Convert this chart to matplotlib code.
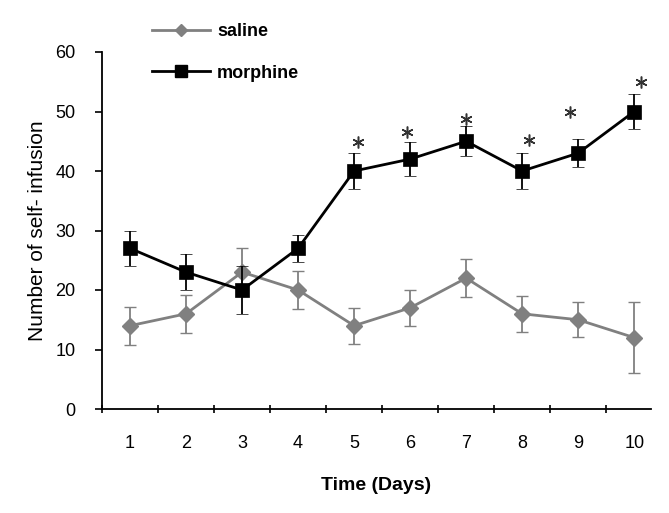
import matplotlib
matplotlib.use("Agg")
import matplotlib.pyplot as plt
from matplotlib.lines import Line2D
import numpy as np

plt.rcParams['font.family'] = ['Liberation Sans', 'DejaVu Sans']

days = [1, 2, 3, 4, 5, 6, 7, 8, 9, 10]
saline = [14, 16, 23, 20, 14, 17, 22, 16, 15, 12]
saline_err = [3.2, 3.2, 4, 3.2, 3, 3, 3.2, 3, 2.9, 6]
morphine = [27, 23, 20, 27, 40, 42, 45, 40, 43, 50]
morphine_err = [3, 3, 4, 2.3, 3, 2.8, 2.5, 3, 2.4, 3]
star_x = [5.07, 5.95, 7.0, 8.12, 8.85, 10.12]
star_y = [44.9, 46.5, 48.7, 45.2, 49.9, 55.0]
y_ticks = [0, 10, 20, 30, 40, 50, 60]

fig = plt.figure(figsize=(6.69, 5.13), dpi=100)
ax = fig.add_axes([102/669, (513-409)/513, (651-102)/669, (409-52)/513])

gray = '#808080'
ax.errorbar(days, saline, yerr=saline_err, color=gray, ecolor=gray, lw=2.0,
            elinewidth=1.3, capsize=4.5, capthick=1.3, marker='D', ms=8,
            mfc=gray, mec=gray, mew=1, zorder=2)
ax.errorbar(days, morphine, yerr=morphine_err, color='black', ecolor='black', lw=2.0,
            elinewidth=1.3, capsize=4.5, capthick=1.3, marker='s', ms=9.5,
            mfc='black', mec='black', mew=0.5, zorder=3)

ax.plot(star_x, star_y, linestyle='none', marker=(6, 2, 0), ms=8.5, mew=1.1,
        color='#333333', zorder=4)

ax.set_xlim(0.5, 10.3)
ax.set_ylim(0, 60)
ax.set_yticks(y_ticks)
ax.set_xticks(days)
ax.set_xticks(np.arange(0.5, 10.0, 1.0), minor=True)
ax.tick_params(axis='x', which='major', length=0, pad=19, labelsize=13)
ax.tick_params(axis='x', which='minor', length=6, width=1.2, direction='inout')
ax.tick_params(axis='y', which='major', length=5, width=1.2, direction='out', labelsize=13, pad=14)
for s in ['top', 'right']:
    ax.spines[s].set_visible(False)
for s in ['left', 'bottom']:
    ax.spines[s].set_linewidth(1.3)

ax.set_xlabel('Time (Days)', fontsize=14, fontweight='bold', labelpad=18)
ax.set_ylabel('Number of self- infusion', fontsize=15, labelpad=6)

handles = [
    Line2D([], [], color=gray, lw=2.0, marker='D', ms=6, mfc=gray, mec=gray),
    Line2D([], [], color='black', lw=2.0, marker='s', ms=8, mfc='black', mec='black'),
]
fig.legend(handles, ['saline', 'morphine'], loc='upper left',
           bbox_to_anchor=(136/669, 1 - 7/513), frameon=False,
           handlelength=3.2, labelspacing=1.35, handletextpad=0.4,
           prop={'weight': 'bold', 'size': 13})

fig.savefig('out.png', dpi=100)
